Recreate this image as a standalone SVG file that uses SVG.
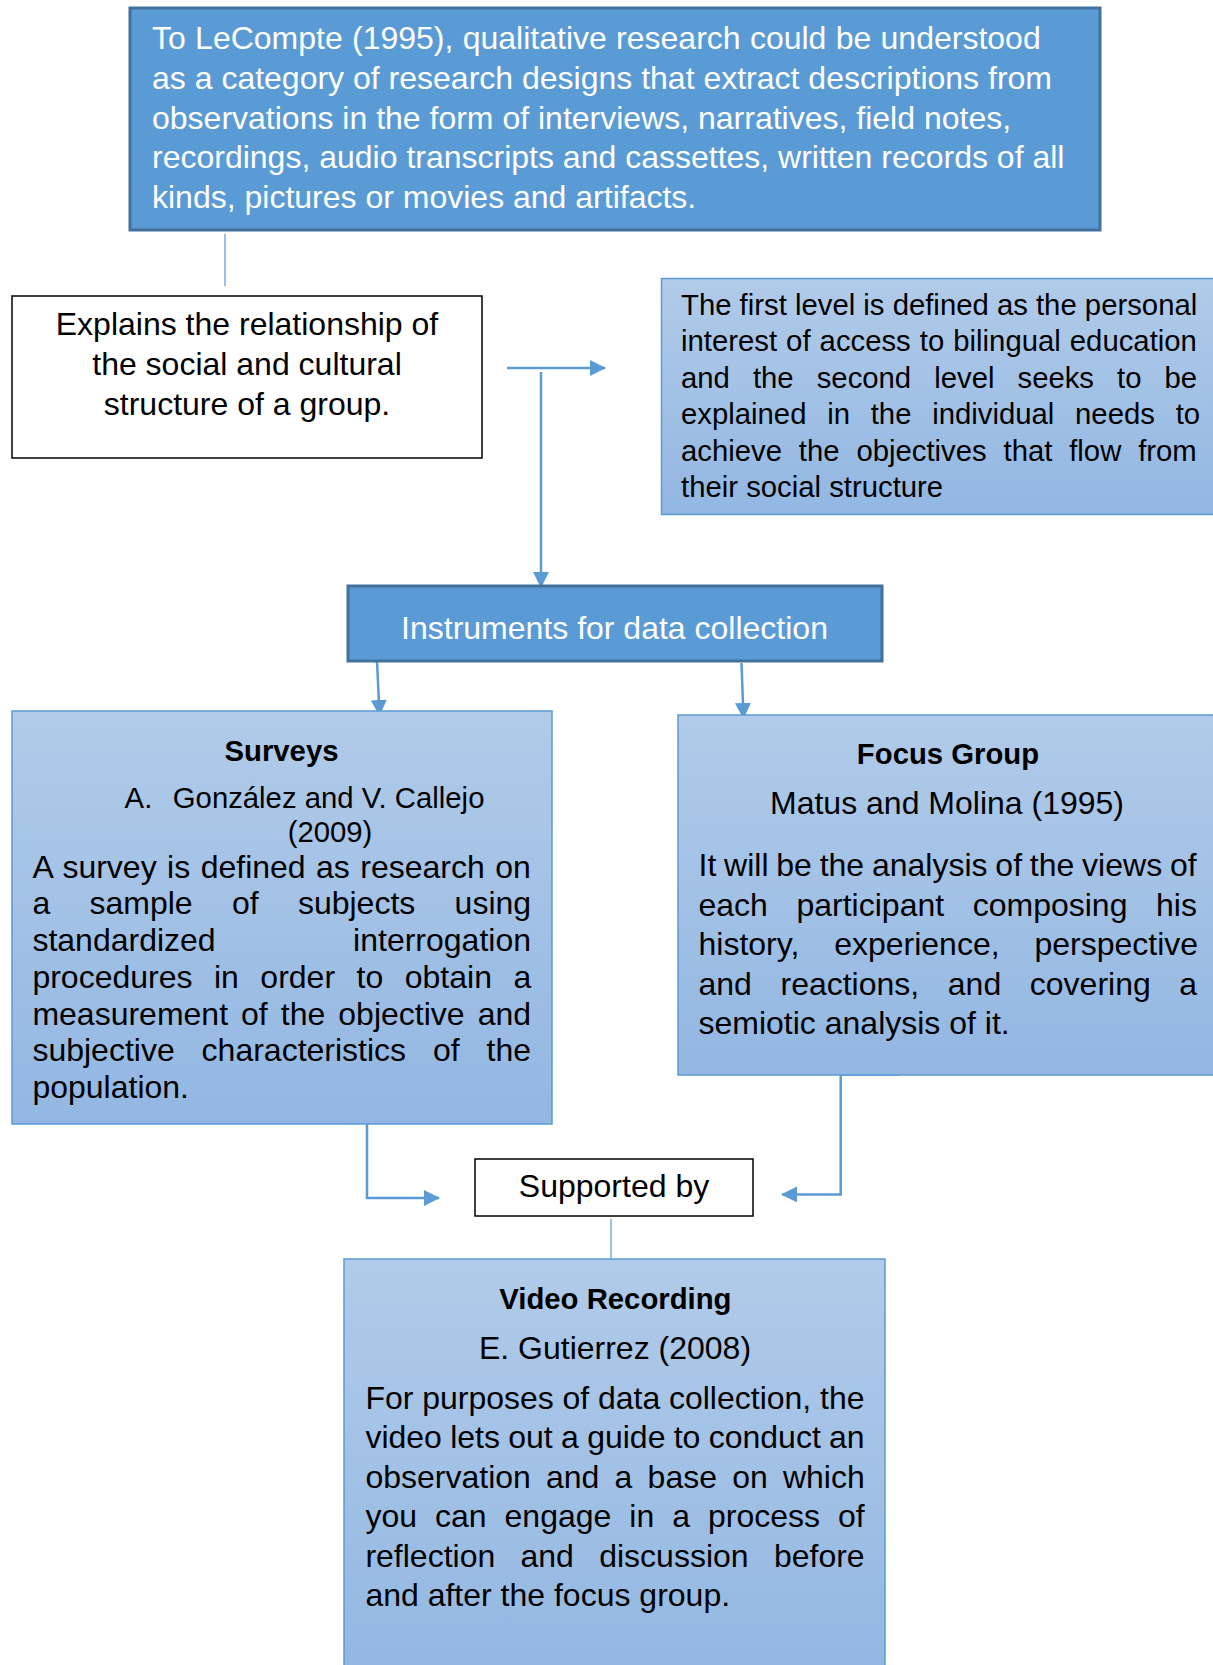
<svg xmlns="http://www.w3.org/2000/svg" width="1213" height="1665" viewBox="0 0 1213 1665">
<defs>
<linearGradient id="lg" x1="0" y1="0" x2="0" y2="1">
<stop offset="0" stop-color="#b1cbe9"/>
<stop offset="1" stop-color="#92b7e2"/>
</linearGradient>
<marker id="ah" markerUnits="userSpaceOnUse" markerWidth="16" markerHeight="16" refX="15" refY="8" orient="auto">
<path d="M0,0 L16,8 L0,16 z" fill="#5b9bd5"/>
</marker>
</defs>
<style>
text{font-family:"Liberation Sans",Arial,sans-serif;}
.dark{fill:#5b9bd5;stroke:#41719c;stroke-width:3;}
.light{fill:url(#lg);stroke:#5b9bd5;stroke-width:1.5;}
.plain{fill:#fff;stroke:#000;stroke-width:1.5;}
.w{fill:#fff;font-size:32px;}
.b{fill:#000;font-size:32px;}
.s{fill:#000;font-size:29.3px;}
.t{fill:#000;font-size:29.3px;font-weight:bold;}
.c{text-anchor:middle;}
.con{fill:none;stroke:#5b9bd5;stroke-width:2.5;}
.thin{fill:none;stroke:#5b9bd5;stroke-width:1.2;}
</style>

<g id="connectors">
<line class="thin" x1="225" y1="234" x2="225" y2="286"/>
<line class="con" x1="507" y1="368" x2="605" y2="368" marker-end="url(#ah)"/>
<line class="con" x1="541" y1="372" x2="541" y2="587" marker-end="url(#ah)"/>
<line class="con" x1="377" y1="661" x2="379.5" y2="715" marker-end="url(#ah)"/>
<line class="con" x1="741.5" y1="663" x2="743.5" y2="718" marker-end="url(#ah)"/>
<path class="con" d="M296,1122 H367 V1198 H439" marker-end="url(#ah)"/>
<path class="con" d="M899,1074.5 H840.7 V1194.4 H782" marker-end="url(#ah)"/>
<line class="thin" x1="611" y1="1219" x2="611" y2="1266"/>
</g>

<g id="lecompte">
<rect class="dark" x="130" y="8" width="970" height="222"/>
<text class="w" x="152" y="49.3" word-spacing="0.4">To LeCompte (1995), qualitative research could be understood</text>
<text class="w" x="152" y="88.9">as a category of research designs that extract descriptions from</text>
<text class="w" x="152" y="128.5">observations in the form of interviews, narratives, field notes,</text>
<text class="w" x="152" y="168.1">recordings, audio transcripts and cassettes, written records of all</text>
<text class="w" x="152" y="207.7">kinds, pictures or movies and artifacts.</text>
</g>

<g id="explains">
<rect class="plain" x="12" y="296" width="470" height="162"/>
<text class="b c" x="247" y="335">Explains the relationship of</text>
<text class="b c" x="247" y="375">the social and cultural</text>
<text class="b c" x="247" y="415">structure of a group.</text>
</g>

<g id="levels">
<rect class="light" x="661.5" y="278.5" width="560" height="236"/>
<text class="s" x="681" y="315">The first level is defined as the personal</text>
<text class="s" x="681" y="351.4" word-spacing="0.9">interest of access to bilingual education</text>
<text class="s" x="681" y="387.8" word-spacing="14.9">and the second level seeks to be</text>
<text class="s" x="681" y="424.2" word-spacing="12.6">explained in the individual needs to</text>
<text class="s" x="681" y="460.6" word-spacing="8.7">achieve the objectives that flow from</text>
<text class="s" x="681" y="497">their social structure</text>
</g>

<g id="instruments">
<rect class="dark" x="348" y="586" width="534" height="75"/>
<text class="w c" x="614.5" y="639">Instruments for data collection</text>
</g>

<g id="surveys">
<rect class="light" x="12" y="711" width="540" height="413"/>
<text class="t c" x="281.5" y="761">Surveys</text>
<text class="s" x="124.6" y="808">A.</text>
<text class="s" x="172.8" y="808">González and V. Callejo</text>
<text class="s c" x="330" y="841.7">(2009)</text>
<text class="b" x="32.4" y="877.7" word-spacing="1.55">A survey is defined as research on</text>
<text class="b" x="32.4" y="914.4" word-spacing="30.4">a sample of subjects using</text>
<text class="b" x="32.4" y="951.1">standardized</text>
<text class="b" x="531" y="951.1" text-anchor="end">interrogation</text>
<text class="b" x="32.4" y="987.8" word-spacing="12.6">procedures in order to obtain a</text>
<text class="b" x="32.4" y="1024.5" word-spacing="4.15">measurement of the objective and</text>
<text class="b" x="32.4" y="1061.2" word-spacing="18">subjective characteristics of the</text>
<text class="b" x="32.4" y="1098">population.</text>
</g>

<g id="focus">
<rect class="light" x="678" y="715" width="545" height="360"/>
<text class="t c" x="948" y="764">Focus Group</text>
<text class="b c" x="947" y="814">Matus and Molina (1995)</text>
<text class="b" x="698.5" y="876" word-spacing="-1.1">It will be the analysis of the views of</text>
<text class="b" x="698.5" y="915.5" word-spacing="19.7">each participant composing his</text>
<text class="b" x="698.5" y="955" word-spacing="26">history, experience, perspective</text>
<text class="b" x="698.5" y="994.5" word-spacing="19.7">and reactions, and covering a</text>
<text class="b" x="698.5" y="1034">semiotic analysis of it.</text>
</g>

<g id="supported">
<rect class="plain" x="475" y="1159" width="278" height="57"/>
<text class="b c" x="614" y="1197">Supported by</text>
</g>

<g id="video">
<rect class="light" x="344" y="1259" width="541" height="420"/>
<text class="t c" x="615.4" y="1309">Video Recording</text>
<text class="b c" x="615" y="1358.7">E. Gutierrez (2008)</text>
<text class="b" x="365.4" y="1409" word-spacing="-0.15">For purposes of data collection, the</text>
<text class="b" x="365.4" y="1448.4" word-spacing="-0.6">video lets out a guide to conduct an</text>
<text class="b" x="365.4" y="1487.8" word-spacing="6.3">observation and a base on which</text>
<text class="b" x="365.4" y="1527.2" word-spacing="9.1">you can engage in a process of</text>
<text class="b" x="365.4" y="1566.6" word-spacing="16.4">reflection and discussion before</text>
<text class="b" x="365.4" y="1606">and after the focus group.</text>
</g>
</svg>
